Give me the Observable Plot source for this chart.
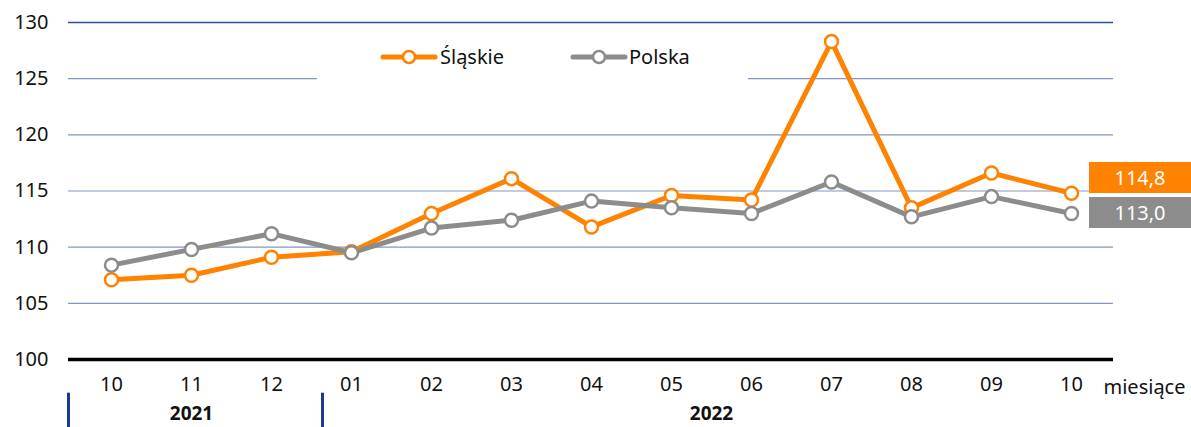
<!DOCTYPE html>
<html><head><meta charset="utf-8">
<script src="https://cdn.jsdelivr.net/npm/d3@7"></script>
<script src="https://cdn.jsdelivr.net/npm/@observablehq/plot@0.6"></script>
<style>
body{margin:0;background:#fff;font-family:"Noto Sans",sans-serif;}
#wrap{position:relative;width:1191px;height:427px;overflow:hidden;background:#fff}
#wrap svg{position:absolute;left:0;top:0}
.legend{position:absolute;left:317px;top:42px;width:431px;height:41px;background:#fff}
.legend svg{position:absolute;top:0}
.legend span{position:absolute;top:0;line-height:30px;font-size:20px;color:#111}
.box{position:absolute;left:1089px;width:102px;height:31px;color:#fff;font-size:20px;display:flex;align-items:center;justify-content:center}
</style></head><body><div id="wrap"></div>
<script>
const periods = ["2021-10","2021-11","2021-12","2022-01","2022-02","2022-03","2022-04","2022-05","2022-06","2022-07","2022-08","2022-09","2022-10"];
const monthLabels = ["10","11","12","01","02","03","04","05","06","07","08","09","10"];
const slaskie = [107.1,107.5,109.1,109.6,113.0,116.1,111.8,114.6,114.2,128.3,113.5,116.6,114.8];
const polska = [108.4,109.8,111.2,109.5,111.7,112.4,114.1,113.5,113.0,115.8,112.7,114.5,113.0];
const seriesNames = ["Śląskie","Polska"];
const seriesColors = ["#ff8200","#8c8c8c"];
const yearLabels = ["2021","2022"];
const gridTicks = [105,110,115,120,125];
const yTicks = [100,105,110,115,120,125,130];
const valueLabels = ["114,8","113,0"];

const rows = [];
periods.forEach((p,i)=>{
  rows.push({period:p, series:seriesNames[0], value:slaskie[i]});
  rows.push({period:p, series:seriesNames[1], value:polska[i]});
});
const labelOf = Object.fromEntries(periods.map((p,i)=>[p, monthLabels[i]]));
const font = "'Noto Sans', sans-serif";

const plot = Plot.plot({
  width:1191, height:427,
  marginLeft:68, marginRight:78, marginTop:22, marginBottom:68,
  style:{fontFamily:font, fontSize:"20px", color:"#111", background:"transparent", overflow:"visible"},
  x:{type:"band", domain:periods, padding:0},
  y:{domain:[100,130]},
  color:{domain:seriesNames, range:seriesColors},
  marks:[
    Plot.ruleY(gridTicks, {stroke:"#8595c6", strokeWidth:1.2}),
    Plot.ruleY([130], {stroke:"#2d4b9b", strokeWidth:1.3}),
    Plot.ruleY([100], {stroke:"#000", strokeWidth:3.5}),
    Plot.axisY({ticks:yTicks, tickSize:0, tickPadding:20, fontSize:20, label:null}),
    Plot.axisX({tickSize:0, tickPadding:17, fontSize:20, label:null, tickFormat:d=>labelOf[d]}),
    Plot.text(["miesiące"], {x:()=>periods[periods.length-1], y:()=>100, dx:32, dy:28, text:d=>d, textAnchor:"start", fontSize:20, fill:"#111"}),
    Plot.text([yearLabels[0]], {x:()=>periods[1], y:()=>100, dy:54, text:d=>d, fontWeight:"bold", fontSize:19, fill:"#111"}),
    Plot.text([yearLabels[1]], {x:()=>periods[7], y:()=>100, dy:54, dx:40, text:d=>d, fontWeight:"bold", fontSize:19, fill:"#111"}),
    Plot.ruleX([periods[0]], {y1:()=>97, y2:()=>93.5, dx:-43, stroke:"#1a3a8f", strokeWidth:3}),
    Plot.ruleX([periods[3]], {y1:()=>97, y2:()=>93.5, dx:-29, stroke:"#1a3a8f", strokeWidth:3}),
    Plot.line(rows, {x:"period", y:"value", z:"series", stroke:"series", strokeWidth:5, strokeLinejoin:"round", strokeLinecap:"round"}),
    Plot.dot(rows, {x:"period", y:"value", stroke:"series", fill:"#fff", r:6.5, strokeWidth:2.5})
  ]
});

const wrap = document.getElementById("wrap");
wrap.appendChild(plot);

// legend overlay
const legend = document.createElement("div");
legend.className = "legend";
const legendPos = [{sw:63, tx:123},{sw:253, tx:312}];
seriesNames.forEach((name,i)=>{
  const c = seriesColors[i];
  const sv = document.createElementNS("http://www.w3.org/2000/svg","svg");
  sv.setAttribute("width","60"); sv.setAttribute("height","30");
  sv.style.left = legendPos[i].sw + "px";
  sv.innerHTML = `<line x1="3" x2="55" y1="15" y2="15" stroke="${c}" stroke-width="5" stroke-linecap="round"/><circle cx="29" cy="15" r="6" fill="#fff" stroke="${c}" stroke-width="2.5"/>`;
  legend.appendChild(sv);
  const sp = document.createElement("span");
  sp.textContent = name;
  sp.style.left = legendPos[i].tx + "px";
  legend.appendChild(sp);
});
wrap.appendChild(legend);

// value boxes
const ys = plot.scale("y");
const yGray = ys.apply(polska[polska.length-1]);
const boxes = [
  {text:valueLabels[0], color:seriesColors[0], top:yGray - 16 - 4 - 31},
  {text:valueLabels[1], color:seriesColors[1], top:yGray - 16}
];
boxes.forEach(b=>{
  const d = document.createElement("div");
  d.className = "box";
  d.style.top = b.top + "px";
  d.style.background = b.color;
  d.textContent = b.text;
  wrap.appendChild(d);
});
</script>
</body></html>
